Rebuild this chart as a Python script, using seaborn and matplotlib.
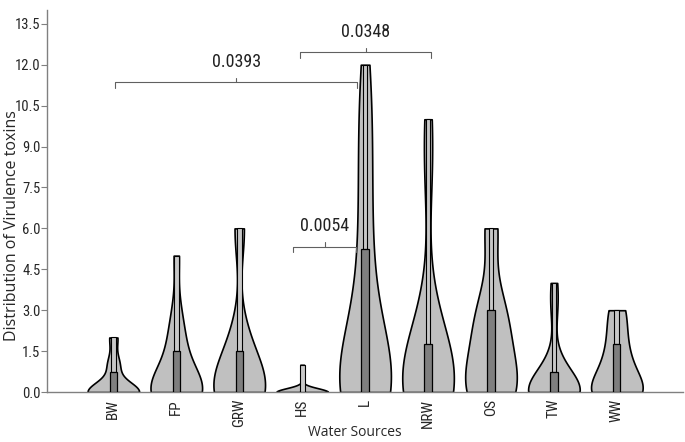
import numpy as np
import pandas as pd
import seaborn as sns
import matplotlib.pyplot as plt

sources = ["BW", "FP", "GRW", "HS", "L", "NRW", "OS", "TW", "WW"]
bw = [0, 0, 0, 0, 0, 0, 0, 0, 0, 0, 0, 0, 0, 1, 1, 1, 2, 2]
fp = [0, 0, 0, 0, 0, 0, 0, 0, 0, 1, 1, 2, 2, 3, 5]
grw = [0, 0, 0, 0, 0, 0, 0, 0, 0, 1, 1, 2, 2, 6, 6]
hs = [0, 0, 0, 0, 0, 0, 0, 0, 0, 0, 0, 0, 0, 0, 1]
l_src = [0] * 12 + [1, 1, 1, 2, 2, 3, 3, 4, 5, 6, 7, 8, 9, 10, 11, 12]
nrw = [0, 0, 0, 0, 0, 0, 0, 1, 1, 1, 2, 3, 8, 10]
os_src = [0, 0, 0, 0, 0, 0, 1, 1, 2, 2, 3, 3, 3, 6, 6]
tw = [0, 0, 0, 0, 0, 0, 0, 0, 0, 0, 1, 1, 3, 4]
ww = [0, 0, 0, 0, 0, 0, 0, 1, 1, 1, 2, 2, 3, 3]
all_vals = [bw, fp, grw, hs, l_src, nrw, os_src, tw, ww]

# significance brackets: (left, right, height, p-value)
pairs = [("BW", "L", 11.35, "0.0393"), ("HS", "NRW", 12.45, "0.0348"), ("HS", "L", 5.33, "0.0054")]
ends = {("BW", "L"): (0.03, -0.13), ("HS", "NRW"): (-0.03, 0.05), ("HS", "L"): (-0.14, -0.14)}

rows = []
for s, v in zip(sources, all_vals):
    for x in v:
        rows.append({"Water Sources": s, "toxins": x})
df = pd.DataFrame(rows)

sns.set_style("white")
plt.rcParams['font.family'] = ['Open Sans', 'DejaVu Sans']
cond = ['Roboto Condensed', 'Open Sans', 'DejaVu Sans']

fig = plt.figure(figsize=(6.85, 4.42), dpi=100)
ax = fig.add_axes([0.069, 0.113, 0.928, 0.864])

sns.violinplot(data=df, x="Water Sources", y="toxins", order=sources, cut=0, inner=None,
               density_norm="width", width=0.82, color="#c0c0c0", saturation=1,
               linecolor="black", linewidth=1.2, bw_adjust=0.95, ax=ax)

for i, v in enumerate(all_vals):
    q1, q3 = np.quantile(v, [0.25, 0.75])
    mx = max(v)
    ax.bar(i, mx - q3, bottom=q3, width=0.075, color="#c8c8c8", edgecolor="black", linewidth=0.8, zorder=3)
    ax.bar(i, q3 - q1, bottom=q1, width=0.115, color="#7f7f7f", edgecolor="black", linewidth=0.9, zorder=4)

for a, b, h, p in pairs:
    da, db = ends[(a, b)]
    x1 = sources.index(a) + da
    x2 = sources.index(b) + db
    ax.plot([x1, x1, x2, x2], [h - 0.2, h, h, h - 0.2], color="#606060", lw=0.8, clip_on=False)
    xm = (x1 + x2) / 2
    ax.plot([xm, xm], [h, h + 0.17], color="#606060", lw=0.8)
    ax.text(xm, h + 0.42, p, ha="center", va="bottom", fontsize=13, color="#222222", family=cond)

ax.set_ylim(0, 14)
ax.set_xlim(-1.05, 9.05)
ax.set_yticks(np.arange(0, 13.6, 1.5))
ax.set_yticklabels([f"{t:.1f}" for t in np.arange(0, 13.6, 1.5)], fontsize=10.5, family=cond)
ax.set_xticks(range(len(sources)))
ax.set_xticklabels(sources, rotation=90, fontsize=11, family=cond)
ax.tick_params(axis="y", length=4, width=0.8, color="#808080", direction="out", left=True, pad=1)
ax.tick_params(axis="x", length=0, pad=5)
ax.set_ylabel("Distribution of Virulence toxins", fontsize=11.5)
ax.set_xlabel("Water Sources", fontsize=10, va="center")
ax.yaxis.set_label_coords(-0.043, 0.437)
ax.xaxis.set_label_coords(0.4845, -0.105)
for side in ["top", "right"]:
    ax.spines[side].set_visible(False)
for side in ["left", "bottom"]:
    ax.spines[side].set_color("#808080")
    ax.spines[side].set_linewidth(1)

fig.savefig("out.png", dpi=100)
